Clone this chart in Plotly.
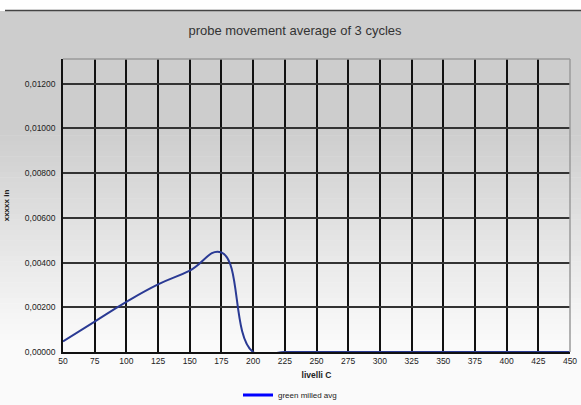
import plotly.graph_objects as go

# Probe movement (inches), averaged over 3 cycles, per level
levels = [50, 75, 100, 125, 150, 175, 200, 225, 250, 275, 300, 325, 350, 375, 400, 425, 450]
green_milled_avg = [0.00047, 0.00136, 0.00224, 0.00302, 0.00364, 0.00445, 0.0,
                    0.0, 0.0, 0.0, 0.0, 0.0, 0.0, 0.0, 0.0, 0.0, 0.0]
y_ticks = [0.0, 0.002, 0.004, 0.006, 0.008, 0.010, 0.012]

W, H = 581, 405
L, R, T, B = 63, 11, 59, 53
PW, PH = W - L - R, H - T - B


def px_to_paper_x(q):
    return (q - L) / PW


def px_to_paper_y(p):
    return (H - B - p) / PH


FONT = "Liberation Sans, Arial, sans-serif"

fig = go.Figure()

fig.add_trace(go.Scatter(
    x=levels, y=green_milled_avg, mode="lines",
    line=dict(color="#2a3a94", width=2, shape="spline", smoothing=1.3),
    name="green milled avg", showlegend=False,
))
# legend entry in a brighter blue
fig.add_trace(go.Scatter(
    x=[None], y=[None], mode="lines",
    line=dict(color="#0000ff", width=3),
    name="green milled avg", showlegend=True,
))

# page background: grey band fading to white toward the bottom
shapes = []
top_px, solid_end, fade_end = 11, 130, 340
c0, c1 = 205, 250
n = 40
shapes.append(dict(type="rect", xref="paper", yref="paper", layer="below",
                   x0=px_to_paper_x(0), x1=px_to_paper_x(W),
                   y0=px_to_paper_y(top_px), y1=px_to_paper_y(solid_end),
                   fillcolor=f"rgb({c0},{c0},{c0})", line=dict(width=0)))
for i in range(n):
    p0 = solid_end + (fade_end - solid_end) * i / n
    p1 = solid_end + (fade_end - solid_end) * (i + 1) / n + 0.5
    c = round(c0 + (c1 - c0) * (i + 0.5) / n)
    shapes.append(dict(type="rect", xref="paper", yref="paper", layer="below",
                       x0=px_to_paper_x(0), x1=px_to_paper_x(W),
                       y0=px_to_paper_y(p0), y1=px_to_paper_y(p1),
                       fillcolor=f"rgb({c},{c},{c})", line=dict(width=0)))
shapes.append(dict(type="rect", xref="paper", yref="paper", layer="below",
                   x0=px_to_paper_x(0), x1=px_to_paper_x(W),
                   y0=px_to_paper_y(fade_end), y1=px_to_paper_y(H),
                   fillcolor=f"rgb({c1},{c1},{c1})", line=dict(width=0)))
# dark rule across the top
shapes.append(dict(type="line", xref="paper", yref="paper", layer="above",
                   x0=px_to_paper_x(5), x1=px_to_paper_x(W),
                   y0=px_to_paper_y(10.5), y1=px_to_paper_y(10.5),
                   line=dict(color="#444444", width=1.5)))
# light frame on top and right of the plot area
shapes.append(dict(type="line", xref="paper", yref="paper", layer="above",
                   x0=0, x1=1, y0=1, y1=1, line=dict(color="#9a9a9a", width=1.5)))
shapes.append(dict(type="line", xref="paper", yref="paper", layer="above",
                   x0=1, x1=1, y0=0, y1=1, line=dict(color="#9a9a9a", width=1.5)))

fig.update_layout(
    width=W, height=H,
    margin=dict(l=L, r=R, t=T, b=B, pad=0, autoexpand=False),
    paper_bgcolor="white",
    plot_bgcolor="white",
    separators=",.",
    shapes=shapes,
    title=dict(text="probe movement average of 3 cycles",
               x=295 / W, xref="container", xanchor="center",
               y=1 - 30 / H, yref="container", yanchor="middle",
               font=dict(family=FONT, size=13, color="#333333")),
    xaxis=dict(
        range=[50, 450], tickmode="array", tickvals=levels,
        ticks="", showgrid=True, gridcolor="#111111", gridwidth=1.5,
        showline=True, linecolor="#111111", linewidth=1.5,
        zeroline=False, automargin=False, layer="below traces",
        tickfont=dict(family=FONT, size=8.5, color="#222222"),
        title=dict(text="<b>livelli C</b>", standoff=8,
                   font=dict(family=FONT, size=8.5, color="#222222")),
    ),
    yaxis=dict(
        range=[0, 0.0131], tickmode="array", tickvals=y_ticks,
        tickformat=".5f", ticks="",
        showgrid=True, gridcolor="#333333", gridwidth=2,
        showline=True, linecolor="#111111", linewidth=1.5,
        zeroline=False, automargin=False, layer="below traces",
        tickfont=dict(family=FONT, size=8.5, color="#222222"),
        ticklabelstandoff=4,
        title=dict(text="<b>xxxxx in</b>", standoff=14,
                   font=dict(family=FONT, size=8, color="#222222")),
    ),
    legend=dict(orientation="h", x=290 / W, xref="container", xanchor="center",
                y=10 / H, yref="container", yanchor="middle",
                bgcolor="rgba(0,0,0,0)", itemwidth=30,
                font=dict(family=FONT, size=8, color="#222222")),
)

fig.write_html("out.html")
